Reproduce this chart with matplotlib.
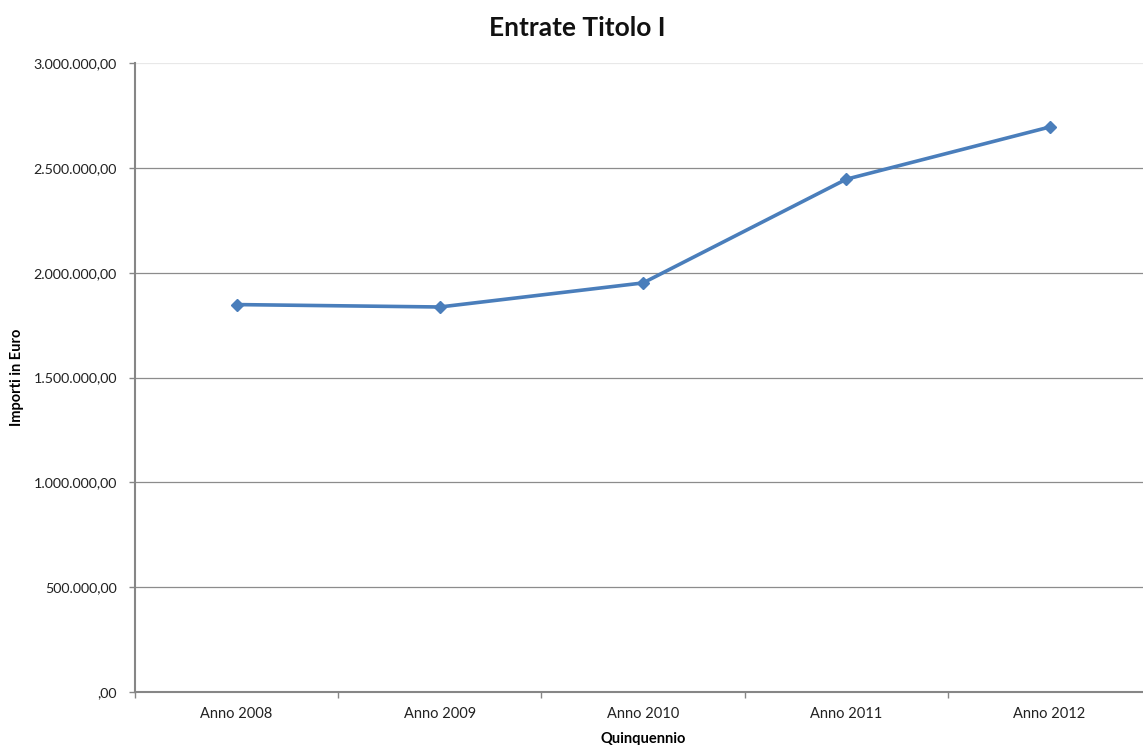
import matplotlib
matplotlib.use("Agg")
import matplotlib.pyplot as plt

# Entrate Titolo I per anno del quinquennio
anni = ["Anno 2008", "Anno 2009", "Anno 2010", "Anno 2011", "Anno 2012"]
importi = [1848700, 1837200, 1952100, 2447300, 2696400]

y_ticks = [0, 500000, 1000000, 1500000, 2000000, 2500000, 3000000]
y_tick_labels = [",00", "500.000,00", "1.000.000,00", "1.500.000,00",
                 "2.000.000,00", "2.500.000,00", "3.000.000,00"]

plt.rcParams["font.family"] = ["Lato", "DejaVu Sans"]

fig = plt.figure(figsize=(11.43, 7.45), dpi=100)
ax = fig.add_axes([0.1181, 0.0715, 0.889, 0.8433])

x = list(range(len(anni)))
ax.plot(x, importi, color="#4A7EBB", linewidth=2.6, marker="D",
        markersize=6.5, markerfacecolor="#4A7EBB", markeredgecolor="#4A7EBB",
        zorder=3)

ax.set_xlim(-0.5, len(anni) - 0.5)
ax.set_ylim(0, 3000000)

# Category boundaries carry the tick marks; labels sit at the centres
ax.set_xticks([i - 0.5 for i in range(len(anni) + 1)])
ax.set_xticklabels([])
ax.set_xticks(x, minor=True)
ax.set_xticklabels(anni, minor=True, fontsize=10.5, color="#222222")
ax.tick_params(axis="x", which="major", length=4, width=1, color="#868686",
               direction="out")
ax.tick_params(axis="x", which="minor", length=0, pad=11)

ax.set_yticks(y_ticks)
ax.set_yticklabels(y_tick_labels, fontsize=10.3, color="#222222")
ax.tick_params(axis="y", length=4, width=1, color="#868686", pad=9,
               direction="out")

for v in y_ticks[1:]:
    col = "#E8E8E8" if v == y_ticks[-1] else "#8C8C8C"
    ax.axhline(v, color=col, linewidth=0.9, zorder=1)

for side in ("top", "right"):
    ax.spines[side].set_visible(False)
for side in ("left", "bottom"):
    ax.spines[side].set_color("#868686")
    ax.spines[side].set_linewidth(1.5)

ax.set_xlabel("Quinquennio", fontsize=10.5, fontweight="bold", labelpad=8)
ax.set_ylabel("Importi in Euro", fontsize=10.5, fontweight="bold", labelpad=7)

fig.text(0.505, 0.962, "Entrate Titolo I", ha="center", va="center",
         fontsize=19, fontweight="bold", color="#111111")

fig.savefig("out.png", dpi=100, facecolor="white")
